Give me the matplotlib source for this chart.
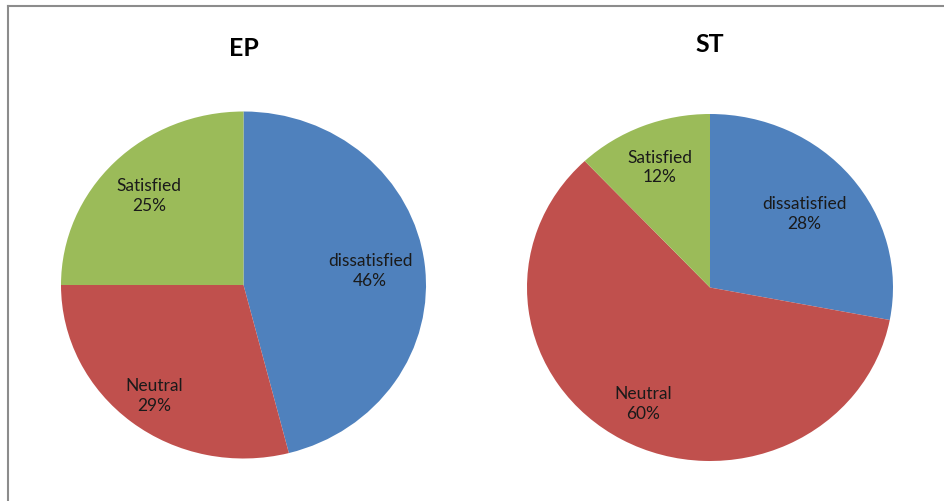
import numpy as np
import matplotlib
matplotlib.use("Agg")
from matplotlib import pyplot as plt
from matplotlib.lines import Line2D

categories = ["dissatisfied", "Neutral", "Satisfied"]
ep_values = [46, 29, 25]
st_values = [28, 60, 12]
colors = ["#4f81bd", "#c0504d", "#9bbb59"]

plt.rcParams["font.family"] = ["Lato", "DejaVu Sans"]

fig = plt.figure(figsize=(9.45, 5.02), dpi=100)
W, H = 945, 502


def add_pie(box, values, title, title_y, label_r):
    left, top, right, bottom = box
    ax = fig.add_axes([left / W, 1 - bottom / H, (right - left) / W, (bottom - top) / H])
    wedges, _ = ax.pie(values, colors=colors, startangle=90, counterclock=False,
                       radius=1, wedgeprops=dict(linewidth=0))
    ax.set_aspect("auto")
    ax.set_xlim(-1, 1)
    ax.set_ylim(-1, 1)
    total = sum(values)
    for w, name, v, r in zip(wedges, categories, values, label_r):
        mid = np.deg2rad((w.theta1 + w.theta2) / 2)
        ax.text(r * np.cos(mid), r * np.sin(mid), f"{name}\n{round(100 * v / total)}%",
                ha="center", va="center", fontsize=12.5, color="#1a1a1a",
                linespacing=1.3)
    fig.text((left + right) / 2 / W, 1 - title_y / H, title, ha="center", va="center",
             fontsize=18, fontweight="bold")


add_pie((61, 112.5, 426, 459.5), ep_values, "EP", 49, [0.70, 0.80, 0.73])
add_pie((527, 115, 893, 462), st_values, "ST", 44, [0.67, 0.76, 0.75])

# frame lines (left and top)
fig.add_artist(Line2D([8 / W, 8 / W], [0, 1 - 6.5 / H], transform=fig.transFigure,
                      color="#8c8c8c", linewidth=1.5))
fig.add_artist(Line2D([8 / W, 1], [1 - 6.5 / H, 1 - 6.5 / H], transform=fig.transFigure,
                      color="#8c8c8c", linewidth=1.5))

fig.savefig("out.png", dpi=100)
